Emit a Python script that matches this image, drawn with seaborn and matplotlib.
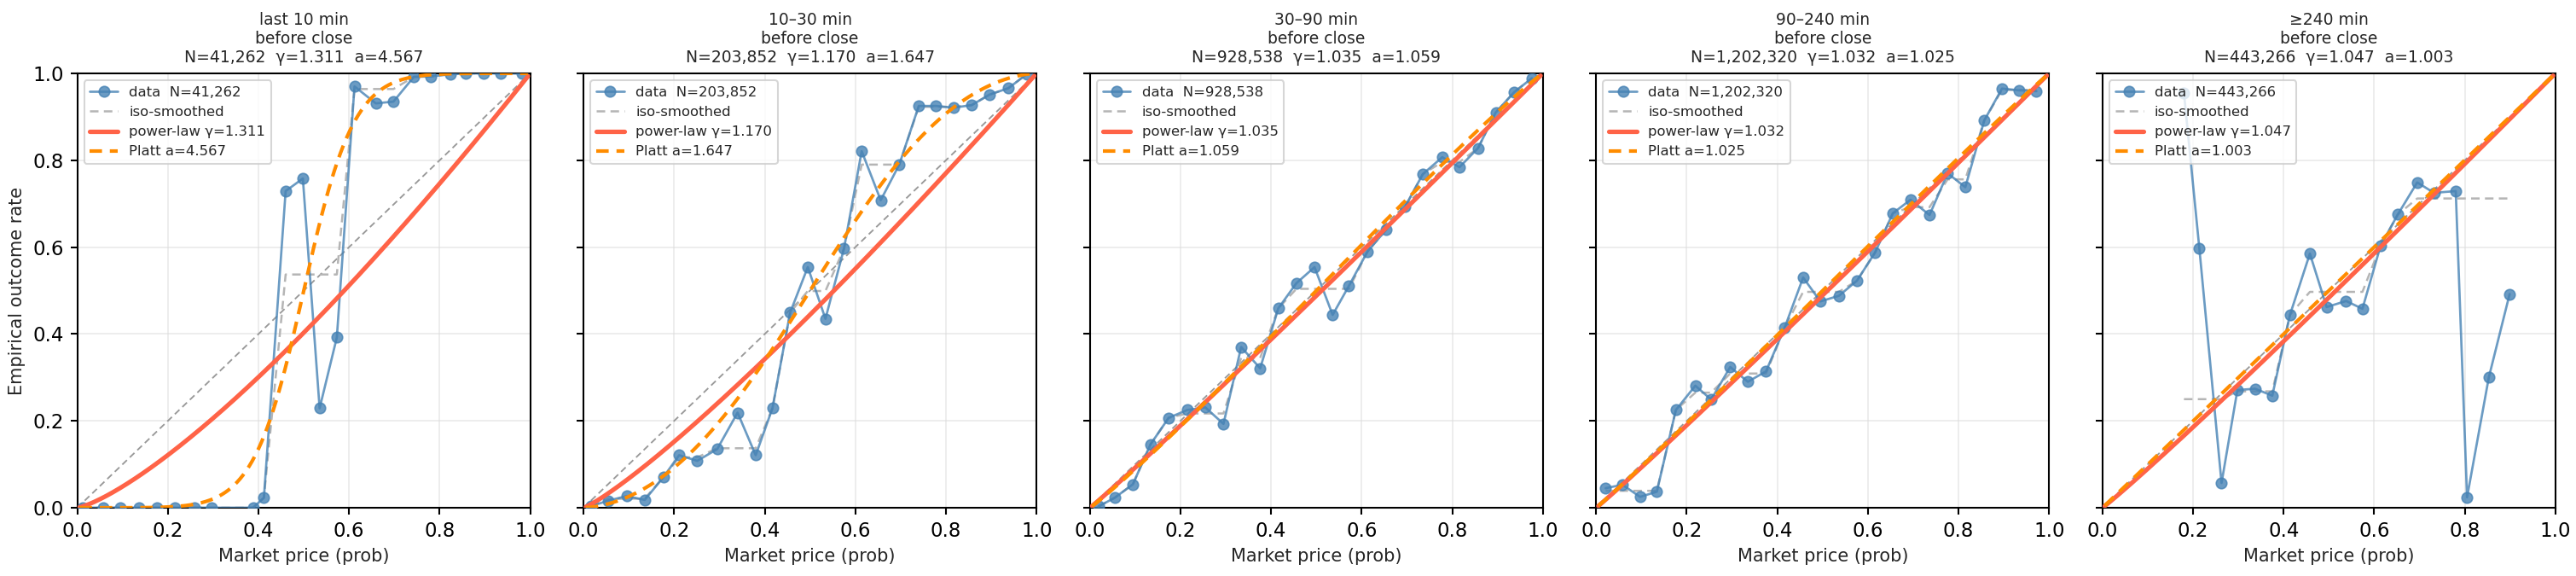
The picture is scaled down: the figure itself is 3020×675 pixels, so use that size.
import numpy as np
import pandas as pd
import matplotlib
matplotlib.use("Agg")
import matplotlib.pyplot as plt
import seaborn as sns

# ---------------- data ----------------
panel_names = ["last 10 min\nbefore close", "10\u201330 min\nbefore close", "30\u201390 min\nbefore close",
               "90\u2013240 min\nbefore close", "\u2265240 min\nbefore close"]
panel_n = [41262, 203852, 928538, 1202320, 443266]
panel_gamma = [1.311, 1.170, 1.035, 1.032, 1.047]
panel_a = [4.567, 1.647, 1.059, 1.025, 1.003]

p1_x = [0.012, 0.058, 0.095, 0.136, 0.175, 0.215, 0.259, 0.296, 0.388, 0.412, 0.460, 0.498, 0.535,
        0.573, 0.612, 0.659, 0.698, 0.743, 0.780, 0.823, 0.857, 0.898, 0.935, 0.981]
p1_y = [0.0, 0.0, 0.0, 0.0, 0.0, 0.0, 0.0, 0.0, 0.0, 0.023, 0.729, 0.758, 0.229,
        0.392, 0.970, 0.931, 0.935, 0.992, 0.993, 0.998, 1.0, 1.0, 1.0, 1.0]
p1_iso = [0.0, 0.0, 0.0, 0.0, 0.0, 0.0, 0.0, 0.0, 0.0, 0.023, 0.537, 0.537, 0.537,
          0.537, 0.964, 0.964, 0.964, 0.992, 0.993, 0.998, 1.0, 1.0, 1.0, 1.0]

p2_x = [0.017, 0.054, 0.095, 0.135, 0.176, 0.211, 0.251, 0.295, 0.340, 0.380, 0.417, 0.456, 0.495,
        0.534, 0.575, 0.614, 0.656, 0.697, 0.740, 0.778, 0.817, 0.857, 0.896, 0.938, 0.978]
p2_y = [0.004, 0.016, 0.027, 0.018, 0.070, 0.121, 0.108, 0.135, 0.219, 0.121, 0.229, 0.449, 0.554,
        0.435, 0.597, 0.821, 0.708, 0.790, 0.925, 0.925, 0.921, 0.927, 0.951, 0.966, 0.998]
p2_iso = [0.004, 0.020, 0.021, 0.021, 0.070, 0.116, 0.116, 0.137, 0.137, 0.137, 0.229, 0.449, 0.499,
          0.499, 0.597, 0.790, 0.790, 0.790, 0.923, 0.923, 0.923, 0.927, 0.951, 0.966, 0.998]

p3_x = [0.019, 0.055, 0.095, 0.134, 0.174, 0.215, 0.255, 0.295, 0.334, 0.376, 0.416, 0.456, 0.496,
        0.536, 0.572, 0.613, 0.654, 0.696, 0.735, 0.778, 0.816, 0.857, 0.896, 0.937, 0.976]
p3_y = [0.003, 0.023, 0.054, 0.146, 0.207, 0.225, 0.231, 0.193, 0.370, 0.321, 0.459, 0.517, 0.554,
        0.444, 0.511, 0.590, 0.640, 0.693, 0.768, 0.807, 0.784, 0.828, 0.910, 0.957, 0.989]
p3_iso = [0.003, 0.023, 0.054, 0.146, 0.207, 0.217, 0.217, 0.217, 0.345, 0.345, 0.459, 0.504, 0.504,
          0.504, 0.504, 0.590, 0.640, 0.693, 0.768, 0.796, 0.796, 0.828, 0.910, 0.957, 0.989]

p4_x = [0.021, 0.058, 0.097, 0.134, 0.176, 0.219, 0.254, 0.296, 0.335, 0.375, 0.416, 0.457, 0.495,
        0.536, 0.576, 0.616, 0.655, 0.694, 0.736, 0.776, 0.815, 0.857, 0.896, 0.934, 0.972]
p4_y = [0.045, 0.053, 0.025, 0.037, 0.225, 0.281, 0.249, 0.324, 0.290, 0.314, 0.414, 0.530, 0.475,
        0.488, 0.523, 0.588, 0.678, 0.709, 0.674, 0.770, 0.738, 0.892, 0.965, 0.961, 0.959]
p4_iso = [0.039, 0.039, 0.039, 0.039, 0.225, 0.265, 0.265, 0.309, 0.309, 0.309, 0.414, 0.497, 0.497,
          0.497, 0.523, 0.588, 0.678, 0.692, 0.692, 0.756, 0.756, 0.892, 0.962, 0.962, 0.962]

p5_x = [0.180, 0.214, 0.263, 0.298, 0.337, 0.375, 0.414, 0.458, 0.495, 0.538, 0.574, 0.614, 0.652,
        0.695, 0.732, 0.780, 0.805, 0.853, 0.899]
p5_y = [0.955, 0.597, 0.057, 0.271, 0.274, 0.258, 0.444, 0.585, 0.462, 0.476, 0.458, 0.603, 0.675,
        0.749, 0.725, 0.729, 0.024, 0.300, 0.492]
p5_iso = [0.250, 0.250, 0.250, 0.268, 0.268, 0.268, 0.444, 0.497, 0.497, 0.497, 0.497, 0.603, 0.675,
          0.712, 0.712, 0.712, 0.712, 0.712, 0.712]

panels_x = [p1_x, p2_x, p3_x, p4_x, p5_x]
panels_y = [p1_y, p2_y, p3_y, p4_y, p5_y]
panels_iso = [p1_iso, p2_iso, p3_iso, p4_iso, p5_iso]

# ---------------- style ----------------
sns.set_theme(style="ticks")
plt.rcParams["font.family"] = ["DejaVu Sans"]
plt.rcParams["axes.edgecolor"] = "black"
plt.rcParams["axes.linewidth"] = 1.0
plt.rcParams["xtick.color"] = "black"
plt.rcParams["ytick.color"] = "black"

fig, axes = plt.subplots(1, 5, figsize=(3020 / 150, 675 / 150), dpi=150, sharey=True)
fig.subplots_adjust(left=0.030, right=0.992, bottom=0.1185, top=0.8726, wspace=0.1177)

grid_p = np.linspace(0.005, 0.995, 300)

for i, ax in enumerate(axes):
    g = panel_gamma[i]
    a = panel_a[i]
    n = panel_n[i]
    df = pd.DataFrame({"x": panels_x[i], "y": panels_y[i], "iso": panels_iso[i]})

    # perfect calibration diagonal
    ax.plot([0, 1], [0, 1], linestyle=(0, (4, 2.5)), color="#999999", lw=0.9, zorder=1)

    sns.lineplot(data=df, x="x", y="y", ax=ax, marker="o", markersize=6, color="steelblue",
                 alpha=0.8, lw=1.3, sort=False, estimator=None, markeredgewidth=0.8,
                 markeredgecolor="steelblue", label=f"data  N={n:,}", zorder=3)
    sns.lineplot(data=df, x="x", y="iso", ax=ax, color="#b5b5b5", lw=1.2,
                 linestyle=(0, (4, 2.5)), sort=False, estimator=None,
                 label="iso-smoothed", zorder=2)

    pw = grid_p ** g
    logit = np.log(grid_p / (1 - grid_p))
    pl = 1 / (1 + np.exp(-a * logit))
    cdf = pd.DataFrame({"p": grid_p, "pw": pw, "pl": pl})
    sns.lineplot(data=cdf, x="p", y="pw", ax=ax, color="tomato", lw=2.5,
                 label=f"power-law \u03b3={g:.3f}", zorder=4)
    sns.lineplot(data=cdf, x="p", y="pl", ax=ax, color="darkorange", lw=2.0,
                 linestyle=(0, (3.5, 2.2)), label=f"Platt a={a:.3f}", zorder=5)

    ax.set_xlim(0, 1)
    ax.set_ylim(0, 1)
    ax.set_xticks(np.arange(0, 1.01, 0.2))
    ax.set_yticks(np.arange(0, 1.01, 0.2))
    ax.tick_params(axis="both", labelsize=11, length=4, width=1.0, direction="out")
    ax.grid(True, color="#dddddd", alpha=0.6, lw=0.8)
    ax.set_axisbelow(True)
    ax.set_xlabel("Market price (prob)", fontsize=10)
    if i == 0:
        ax.set_ylabel("Empirical outcome rate", fontsize=10)
    else:
        ax.set_ylabel("")
    ax.set_title(f"{panel_names[i]}\nN={n:,}  \u03b3={g:.3f}  a={a:.3f}", fontsize=9)
    for sp in ax.spines.values():
        sp.set_visible(True)
        sp.set_color("black")
    leg = ax.legend(loc="upper left", fontsize=7.9, frameon=True, framealpha=0.8,
                    edgecolor="#cccccc", fancybox=True)
    leg.set_zorder(10)

fig.savefig("out.png", dpi=150)
